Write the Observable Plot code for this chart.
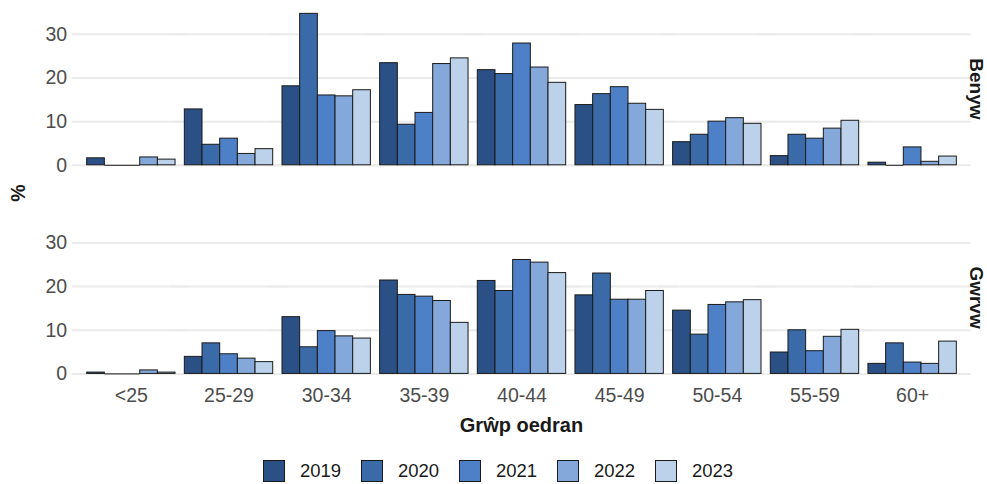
<!DOCTYPE html>
<html>
<head>
<meta charset="utf-8">
<script src="https://cdn.jsdelivr.net/npm/d3@7"></script>
<script src="https://cdn.jsdelivr.net/npm/@observablehq/plot@0.6"></script>
<style>
  html, body { margin: 0; padding: 0; background: #ffffff; }
  body { width: 987px; height: 484px; overflow: hidden; font-family: "Liberation Sans", Arial, sans-serif; }
  #chart svg { display: block; }
  #legend { position: relative; height: 40px; }
  .item { position: absolute; top: 16px; display: flex; align-items: center; }
  .sw { width: 20px; height: 20px; border: 1px solid #1a1a1a; box-sizing: content-box; }
  .lab { margin-left: 15px; font-size: 18.5px; color: #1a1a1a; }
</style>
</head>
<body>
<div id="chart"></div>
<div id="legend"></div>
<script>
const ages = ["<25", "25-29", "30-34", "35-39", "40-44", "45-49", "50-54", "55-59", "60+"];
const years = ["2019", "2020", "2021", "2022", "2023"];
const sexes = ["Benyw", "Gwrvw"];
const yTicks = [0, 10, 20, 30];
const colors = ["#2b5086", "#3a6aa8", "#4e80c8", "#84a8d9", "#bcd1ea"];

// Benyw (women)
const benyw2019 = [1.6, 12.8, 18.1, 23.4, 21.8, 13.8, 5.3, 2.1, 0.6];
const benyw2020 = [0, 4.7, 34.7, 9.3, 20.9, 16.3, 7.0, 7.0, 0];
const benyw2021 = [0, 6.1, 16.0, 12.0, 27.9, 17.9, 10.0, 6.1, 4.1];
const benyw2022 = [1.8, 2.6, 15.8, 23.2, 22.4, 14.1, 10.8, 8.4, 0.8];
const benyw2023 = [1.3, 3.7, 17.2, 24.5, 18.9, 12.7, 9.5, 10.2, 2.0];
// Gwrvw (men)
const gwrvw2019 = [0.3, 3.9, 13.0, 21.4, 21.3, 18.0, 14.5, 4.9, 2.3];
const gwrvw2020 = [0, 7.0, 6.1, 18.1, 19.0, 23.0, 9.0, 10.0, 7.0];
const gwrvw2021 = [0, 4.5, 9.8, 17.7, 26.1, 17.0, 15.8, 5.2, 2.6];
const gwrvw2022 = [0.8, 3.5, 8.6, 16.7, 25.5, 17.0, 16.4, 8.5, 2.3];
const gwrvw2023 = [0.3, 2.7, 8.1, 11.7, 23.1, 19.0, 16.9, 10.1, 7.4];

const series = {
  Benyw: [benyw2019, benyw2020, benyw2021, benyw2022, benyw2023],
  Gwrvw: [gwrvw2019, gwrvw2020, gwrvw2021, gwrvw2022, gwrvw2023]
};
const data = [];
for (const s of sexes) {
  series[s].forEach((arr, yi) => {
    arr.forEach((v, ai) => data.push({sex: s, year: years[yi], age: ages[ai], value: v}));
  });
}
const zeros = data.filter(d => d.value === 0);

const FONT = "'Liberation Sans', Arial, sans-serif";

const svg = Plot.plot({
  width: 987,
  height: 444,
  marginLeft: 73,
  marginRight: 17,
  marginTop: 5.5,
  marginBottom: 63,
  style: {fontFamily: FONT, background: "#ffffff"},
  fx: {domain: ages, paddingInner: 0.095, paddingOuter: 0.14, round: false},
  fy: {domain: sexes, paddingInner: 0.2, paddingOuter: 0, axis: null, round: false},
  x: {domain: years, padding: 0, axis: null, round: false},
  y: {domain: [-1.74, 36.5], axis: null},
  color: {domain: years, range: colors},
  marks: [
    Plot.ruleY(yTicks, {stroke: "#ebebeb", strokeWidth: 2, insetLeft: -14.5, insetRight: -14.5}),
    Plot.barY(data, {fx: "age", fy: "sex", x: "year", y: "value", fill: "year", stroke: "#1a1a1a", strokeWidth: 1}),
    Plot.tickY(zeros, {fx: "age", fy: "sex", x: "year", y: "value", stroke: "#1a1a1a", strokeWidth: 1}),
    Plot.text(yTicks, {fx: () => ages[0], y: d => d, text: d => String(d), frameAnchor: "left", textAnchor: "end", dx: -20, fontSize: 19.5, fill: "#4d4d4d"}),
    Plot.axisFx({anchor: "bottom", tickSize: 0, tickPadding: 7, fontSize: 19.5, color: "#4d4d4d", label: null})
  ]
});
document.getElementById("chart").appendChild(svg);

const s = d3.select(svg);
const fy = svg.scale("fy");
sexes.forEach(sx => {
  const cy = fy.apply(sx) + fy.bandwidth / 2;
  s.append("text")
    .attr("transform", `translate(970,${cy}) rotate(90)`)
    .attr("text-anchor", "middle")
    .attr("font-family", FONT)
    .attr("font-size", 19)
    .attr("font-weight", "bold")
    .attr("fill", "#1a1a1a")
    .text(sx);
});
s.append("text")
  .attr("transform", "translate(25,193) rotate(-90)")
  .attr("text-anchor", "middle")
  .attr("font-family", FONT)
  .attr("font-size", 19.5)
  .attr("font-weight", "bold")
  .attr("fill", "#1a1a1a")
  .text("%");
s.append("text")
  .attr("x", 521.5)
  .attr("y", 432)
  .attr("text-anchor", "middle")
  .attr("font-family", FONT)
  .attr("font-size", 20)
  .attr("font-weight", "bold")
  .attr("fill", "#1a1a1a")
  .text("Grŵp oedran");

const legend = document.getElementById("legend");
years.forEach((y, i) => {
  const it = document.createElement("div");
  it.className = "item";
  it.style.left = (263 + i * 98) + "px";
  const sw = document.createElement("div");
  sw.className = "sw";
  sw.style.background = colors[i];
  const lab = document.createElement("span");
  lab.className = "lab";
  lab.textContent = y;
  it.appendChild(sw);
  it.appendChild(lab);
  legend.appendChild(it);
});
</script>
</body>
</html>
